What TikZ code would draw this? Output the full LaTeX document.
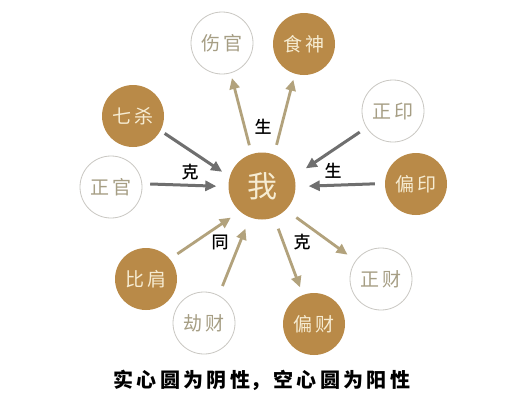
\documentclass[tikz,border=0pt]{standalone}
\usepackage{fontspec}
\newfontfamily\cjk{Noto Sans CJK SC}
\newfontfamily\cjkm{Noto Sans CJK SC Medium}
\usetikzlibrary{arrows.meta}
\definecolor{goldfill}{HTML}{B98A48}
\definecolor{goldtext}{HTML}{F6ECD2}
\definecolor{hollowline}{HTML}{C9C7C2}
\definecolor{hollowtext}{HTML}{A69E84}
\definecolor{tanarrow}{HTML}{B2A27C}
\definecolor{darkarrow}{HTML}{6F6F6F}
\tikzset{
  solidc/.style={circle, fill=goldfill, minimum size=62pt, inner sep=0pt, text=goldtext, font=\cjk\fontsize{19}{19}\selectfont},
  hollowc/.style={circle, draw=hollowline, line width=0.8pt, fill=white, minimum size=62pt, inner sep=0pt, text=hollowtext, font=\cjk\fontsize{19}{19}\selectfont},
  mec/.style={circle, fill=goldfill, minimum size=67pt, inner sep=0pt, text=goldtext, font=\cjk\fontsize{30}{30}\selectfont},
  tanarr/.style={draw=tanarrow, line width=2.8pt, -{Triangle[length=11pt,width=10pt]}},
  darkarr/.style={draw=darkarrow, line width=3pt, -{Triangle[length=11pt,width=10pt]}},
  lbl/.style={text=black, font=\cjkm\fontsize{17}{17}\selectfont, inner sep=0pt},
}
\begin{document}
\begin{tikzpicture}[x=1pt, y=-1pt]
\useasboundingbox[fill=white] (0,0) rectangle (516,400);
% nodes
\node[mec] (wo) at (262,186) {我};
\node[hollowc] (shangguan) at (222,43) {伤\,官};
\node[solidc] (shishen) at (304,44) {食\,神};
\node[solidc] (qisha) at (133,116) {七\,杀};
\node[hollowc] (zhengyin) at (393,111) {正\,印};
\node[hollowc] (zhengguan) at (111,187) {正\,官};
\node[solidc] (pianyin) at (416,184) {偏\,印};
\node[solidc] (bijian) at (146,279) {比\,肩};
\node[hollowc] (jiecai) at (204,323) {劫\,财};
\node[solidc] (piancai) at (314,324) {偏\,财};
\node[hollowc] (zhengcai) at (381,279) {正\,财};
% arrows
\draw[tanarr, shorten <=9pt, shorten >=5pt] (wo.108) -- (shangguan.-74);
\draw[tanarr, shorten <=10pt, shorten >=6pt] (wo.69) -- (shishen.-107);
\draw[darkarr, shorten <=5pt, shorten >=9pt] (qisha.-28) -- (wo.164);
\draw[darkarr, shorten <=8pt, shorten >=12pt] (zhengguan.6) -- (wo.181);
\draw[darkarr, shorten <=8pt, shorten >=14pt] (zhengyin.212) -- (wo.17);
\draw[darkarr, shorten <=10pt, shorten >=13pt] (pianyin.179) -- (wo.-1);
\draw[tanarr, shorten <=9pt, shorten >=11pt] (bijian.40) -- (wo.229);
\draw[tanarr, shorten <=10pt, shorten >=12pt] (jiecai.62) -- (wo.249);
\draw[tanarr, shorten <=12pt, shorten >=8pt] (wo.-69) -- (piancai.111);
\draw[tanarr, shorten <=13pt, shorten >=10pt] (wo.-45) -- (zhengcai.144);
% labels
\node[lbl] (l1) at (263,127) {生};
\node[lbl] (l2) at (190,172) {克};
\node[lbl] (l3) at (333,171) {生};
\node[lbl] (l4) at (220,242) {同};
\node[lbl] (l5) at (302,242) {克};
% caption
\node[text=black, font=\cjk\bfseries\fontsize{20}{20}\selectfont, inner sep=0pt] (cap) at (262,380) {实\,心\,圆\,为\,阴\,性，\,空\,心\,圆\,为\,阳\,性};
\end{tikzpicture}
\end{document}
